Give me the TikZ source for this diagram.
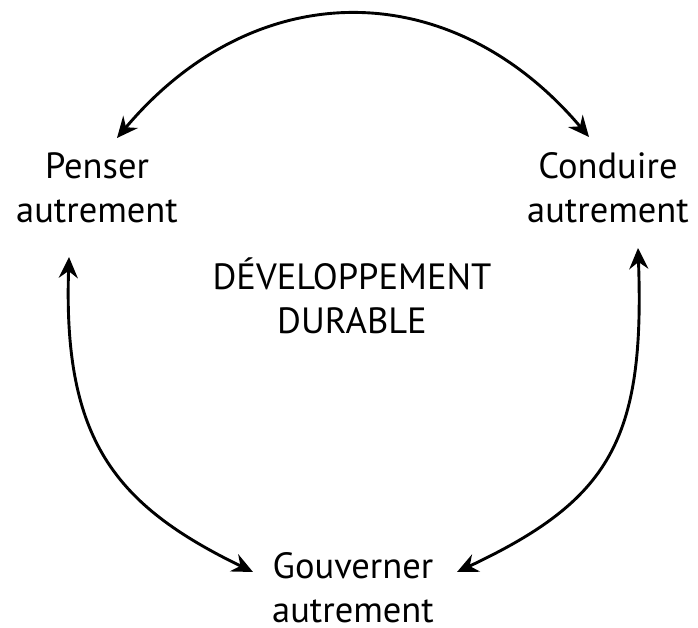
\documentclass[tikz,border=0pt]{standalone}
\usepackage{fontspec}
\setmainfont{PT Sans}
\usetikzlibrary{arrows.meta}
\begin{document}
\begin{tikzpicture}[x=1pt,y=-1pt,
  lbl/.style={inner sep=0pt, anchor=base, align=center, font=\fontsize{36.5}{44}\selectfont},
  cyc/.style={line width=2.9pt, {Stealth[length=21pt,width=19pt,inset=7pt]}-{Stealth[length=21pt,width=19pt,inset=7pt]}}]
\useasboundingbox[fill=white] (0,0) rectangle (698,628);
\node[lbl] (penser) at (97,223) {Penser\\autrement};
\node[lbl] (conduire) at (608,223) {Conduire\\autrement};
\node[lbl] (dd) at (352,333) {DÉVELOPPEMENT\\DURABLE};
\node[lbl] (gouverner) at (353,622) {Gouverner\\autrement};
\coordinate (tl) at (117,138);
\coordinate (tr) at (589,137);
\coordinate (lt) at (69,257);
\coordinate (lb) at (253,572);
\coordinate (rt) at (638,248);
\coordinate (rb) at (457,572);
\draw[cyc] (tl) .. controls (255,-26) and (451,-26) .. (tr);
\draw[cyc] (lt) .. controls (63,440) and (115,505) .. (lb);
\draw[cyc] (rt) .. controls (645,440) and (610,500) .. (rb);
\end{tikzpicture}
\end{document}
